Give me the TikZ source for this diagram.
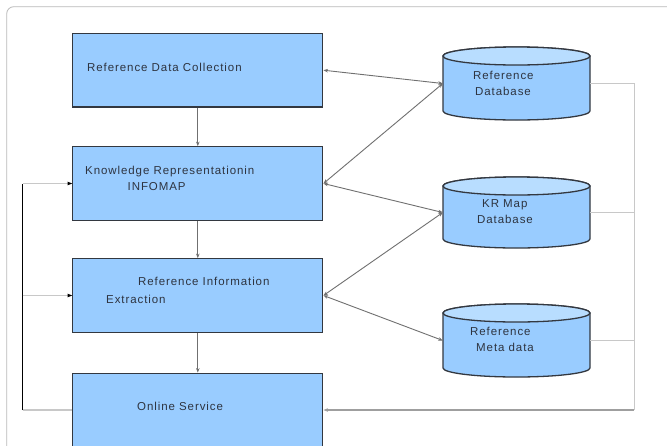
\documentclass[tikz,border=0pt]{standalone}
\usepackage{fontspec}
\setmainfont{Liberation Sans}[LetterSpace=8]
\usetikzlibrary{arrows.meta,calc}
\definecolor{boxfill}{HTML}{99CCFF}
\definecolor{topfill}{HTML}{B8DDFF}
\definecolor{edge}{HTML}{333840}
\definecolor{txt}{HTML}{2E3440}
\definecolor{lightline}{HTML}{C8C8C8}
\definecolor{arrline}{HTML}{707070}
\begin{document}
\begin{tikzpicture}[x=1pt,y=-1pt,
  every node/.style={font=\fontsize{11.5}{13}\selectfont, text=txt},
  box/.style={draw=edge, fill=boxfill, line width=1.3pt, minimum width=250pt, minimum height=73.5pt, inner sep=0pt},
  anchorbox/.style={minimum width=147pt, minimum height=73pt, inner sep=0pt},
  lbl/.style={anchor=mid west, inner sep=0pt, yshift=-2pt},
  cyl/.style={draw=edge, line width=1.3pt, fill=boxfill},
  cyltop/.style={draw=edge, line width=1.3pt, fill=topfill},
  tip/.style={-{Stealth[length=4.5pt,width=3.5pt]}},
  both/.style={{Stealth[length=4.5pt,width=3.5pt]}-{Stealth[length=4.5pt,width=3.5pt]}},
  conn/.style={draw=arrline, line width=0.9pt}
]
\useasboundingbox (0,0) rectangle (667,445);
\clip (0,0) rectangle (667,445);
\fill[white] (0,0) rectangle (667,445);
% outer frame
\draw[gray!55, line width=0.8pt, rounded corners=7pt] (6.7,6.7) rectangle (700,480);

% boxes
\node[box] (b1) at (197.8,70.2) {};
\node[box] (b2) at (197.8,183.5) {};
\node[box] (b3) at (197.8,295.5) {};
\node[box] (b4) at (197.8,410) {};

\node[lbl] (t1) at (87,67) {Reference Data Collection};
\node[lbl] (t2a) at (85,170) {Knowledge Representationin};
\node[lbl] (t2b) at (127.5,186) {INFOMAP};
\node[lbl] (t3a) at (138,281) {Reference Information};
\node[lbl] (t3b) at (106,299) {Extraction};
\node[lbl] (t4) at (137,406) {Online Service};

% cylinders (drawn shapes) with anchor nodes
\foreach \top/\bot in {47/120, 177/248, 304/377}{
  \pgfmathsetmacro{\ta}{\top+9}
  \pgfmathsetmacro{\ba}{\bot-9}
  \draw[cyl] (443,\ta) -- (443,\ba) arc[start angle=180, end angle=360, x radius=73.5pt, y radius=9pt]
    -- (590,\ta) arc[start angle=0, end angle=180, x radius=73.5pt, y radius=9pt] -- cycle;
  \draw[cyltop] (516.5,\ta) ellipse [x radius=73.5pt, y radius=9pt];
}
\node[anchorbox] (c1) at (516.5,83.5) {};
\node[anchorbox] (c2) at (516.5,212.5) {};
\node[anchorbox] (c3) at (516.5,340.5) {};

\node[lbl] (u1a) at (473,75) {Reference};
\node[lbl] (u1b) at (475,91) {Database};
\node[lbl] (u2a) at (482,203) {KR Map};
\node[lbl] (u2b) at (477,219) {Database};
\node[lbl] (u3a) at (470,331) {Reference};
\node[lbl] (u3b) at (476,347) {Meta data};

% vertical flow
\draw[conn,tip] (b1.south) -- (b2.north);
\draw[conn,tip] (b2.south) -- (b3.north);
\draw[conn,tip] (b3.south) -- (b4.north);

% diagonal connectors
\draw[conn,both] (b1.east) -- (c1.west);
\draw[conn,both] (b2.east) -- (c1.west);
\draw[conn,both] (b2.east) -- (c2.west);
\draw[conn,both] (b3.east) -- (c2.west);
\draw[conn,both] (b3.east) -- (c3.west);

% left feedback
\coordinate (L) at (22.7,0);
\draw[black, line width=1pt] (b4.west -| L) -- (b2.west -| L);
\draw[lightline, line width=1.3pt] (b4.west) -- (b4.west -| L);
\draw[lightline, line width=1.3pt] (b2.west -| L) -- ([xshift=-4pt]b2.west);
\draw[lightline, line width=1.3pt] (b3.west -| L) -- ([xshift=-4pt]b3.west);
\fill[black] (b2.west) -- ++(-4.5pt,1.8pt) -- ++(0,-3.6pt) -- cycle;
\fill[black] (b3.west) -- ++(-4.5pt,1.8pt) -- ++(0,-3.6pt) -- cycle;

% right return line
\coordinate (R) at (634,0);
\draw[lightline, line width=1pt] (c1.east) -- (c1.east -| R) -- (b4.east -| R);
\draw[lightline, line width=1pt] (c2.east) -- (c2.east -| R);
\draw[lightline, line width=1pt] (c3.east) -- (c3.east -| R);
\draw[draw=gray!75, line width=1.5pt, tip] (b4.east -| R) -- (b4.east);
\end{tikzpicture}
\end{document}
